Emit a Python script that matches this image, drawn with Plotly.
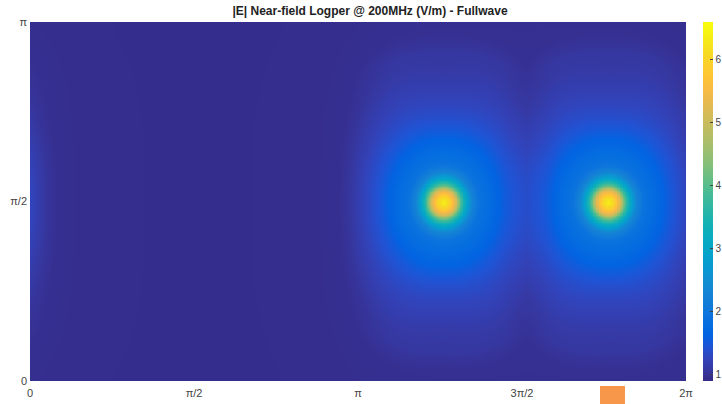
import numpy as np
import plotly.graph_objects as go

# ---- data ----
# source (peak) locations, in radians (phi, theta)
peak_phi = [3.96, 5.535]
peak_theta = [1.565, 1.565]
background_E = 0.93
# radial |E| profile around each source (distance along phi, in rad) -> V/m
profile_dist = [0.0, 0.058, 0.115, 0.163, 0.22, 0.27, 0.336, 0.43, 0.50, 0.60, 0.69, 0.80, 0.91, 1.0, 1.3, 3.5]
profile_E = [6.4, 5.95, 5.2, 3.9, 2.95, 2.3, 1.92, 1.78, 1.65, 1.48, 1.35, 1.2, 1.05, 0.97, 0.95, 0.93]
stretch_dist = [0.0, 0.3, 0.58, 0.84, 1.08, 1.46]
stretch_factor = [1.10, 1.02, 0.95, 0.91, 0.82, 0.68]
shape_p = [2.0, 2.0, 2.2, 2.5, 2.8, 3.0]
overlap_weight = 0.5   # the valley between the two sources is shallow

x_tickvals = [0, np.pi / 2, np.pi, 3 * np.pi / 2, 2 * np.pi]
x_ticktext = ["0", "π/2", "π", "3π/2", "2π"]
y_tickvals = [0, np.pi / 2, np.pi]
y_ticktext = ["0", "π/2", "π"]
cbar_ticks = [1, 2, 3, 4, 5, 6]

# MATLAB parula (classic)
parula = [
    (0.2081, 0.1663, 0.5292), (0.2123, 0.2138, 0.6270), (0.1959, 0.2645, 0.7279),
    (0.1253, 0.3242, 0.8303), (0.0117, 0.3875, 0.8820), (0.0165, 0.4266, 0.8786),
    (0.0498, 0.4586, 0.8641), (0.0723, 0.4887, 0.8467), (0.0793, 0.5200, 0.8312),
    (0.0641, 0.5570, 0.8240), (0.0343, 0.5966, 0.8199), (0.0239, 0.6287, 0.8038),
    (0.0228, 0.6535, 0.7768), (0.0384, 0.6743, 0.7436), (0.0843, 0.6928, 0.7062),
    (0.1453, 0.7098, 0.6646), (0.2178, 0.7250, 0.6193), (0.3022, 0.7376, 0.5712),
    (0.3953, 0.7459, 0.5244), (0.4871, 0.7491, 0.4840), (0.5709, 0.7485, 0.4494),
    (0.6473, 0.7456, 0.4188), (0.7184, 0.7411, 0.3905), (0.7858, 0.7356, 0.3633),
    (0.8507, 0.7299, 0.3360), (0.9140, 0.7258, 0.3063), (0.9739, 0.7314, 0.2666),
    (0.9990, 0.7653, 0.2164), (0.9880, 0.8066, 0.1794), (0.9697, 0.8481, 0.1475),
    (0.9589, 0.8949, 0.1132), (0.9661, 0.9514, 0.0755), (0.9763, 0.9831, 0.0538),
]
n = len(parula)
colorscale = [[i / (n - 1), "rgb(%d,%d,%d)" % tuple(int(round(c * 255)) for c in col)]
              for i, col in enumerate(parula)]

# ---- build the field table from the read profile ----
phi = np.linspace(0, 2 * np.pi, 440)
theta = np.linspace(0, np.pi, 260)
P, T = np.meshgrid(phi, theta)
excess = []
for px0, ty0 in zip(peak_phi, peak_theta):
    dx = np.abs(P - px0)
    dx = np.minimum(dx, 2 * np.pi - dx)
    dyr = np.abs(T - ty0)
    d0 = np.sqrt(dx ** 2 + (dyr * 1.1) ** 2)
    dy = dyr * np.interp(d0, stretch_dist, stretch_factor)
    p = np.interp(d0, stretch_dist, shape_p)
    d = (dx ** p + dy ** p) ** (1 / p)
    excess.append(np.clip(np.interp(d, profile_dist, profile_E) - background_E, 0, None))
e_hi = np.maximum(excess[0], excess[1])
e_lo = np.minimum(excess[0], excess[1])
Z = background_E + e_hi + overlap_weight * e_lo

# layout: plot area at x 30..686, y 22..381 of the 722x404 page (body margin removed)
W, H = 722, 404
L, R, TOP, B = 30, W - 686, 22, H - 381
plot_w, plot_h = 686 - 30, 381 - 22

fig = go.Figure(go.Heatmap(
    x=phi, y=theta, z=Z, zsmooth="best",
    colorscale=colorscale, zmin=0.9, zmax=6.6,
    colorbar=dict(
        x=(703 - 30) / plot_w, xanchor="left", y=0.5, yanchor="middle",
        len=1.0, lenmode="fraction", xpad=0, ypad=0,
        thickness=10, outlinewidth=0,
        tickvals=cbar_ticks, ticks="inside", ticklen=3, tickcolor="#444",
        tickfont=dict(size=10, color="#444", family="Liberation Sans"),
    ),
    hoverinfo="skip",
))

fig.add_shape(type="rect", xref="paper", yref="paper",
              x0=(600 - 30) / plot_w, x1=(625 - 30) / plot_w,
              y0=-(404 - 381) / plot_h, y1=-(386 - 381) / plot_h,
              fillcolor="#F7974A", line=dict(width=0), layer="above")

fig.update_layout(
    width=W, height=H,
    margin=dict(l=L, r=R, t=TOP, b=B, autoexpand=False),
    paper_bgcolor="white", plot_bgcolor="white",
    title=dict(text="<b>|E| Near-field Logper @ 200MHz (V/m) - Fullwave</b>",
               x=(370 - 30) / plot_w, xanchor="center", xref="paper",
               y=1 - 11 / H, yanchor="middle",
               font=dict(size=12, color="#222", family="Liberation Sans")),
    xaxis=dict(range=[0, 2 * np.pi], tickvals=x_tickvals, ticktext=x_ticktext,
               showgrid=False, zeroline=False, ticks="", automargin=False,
               ticklabelstandoff=4,
               tickfont=dict(size=11, color="#444", family="Liberation Sans")),
    yaxis=dict(range=[0, np.pi], tickvals=y_tickvals, ticktext=y_ticktext,
               showgrid=False, zeroline=False, ticks="", automargin=False,
               ticklabelstandoff=2,
               tickfont=dict(size=11, color="#444", family="Liberation Sans")),
)

fig.write_html("out.html", config={"displayModeBar": False},
               post_script="document.body.style.margin='0px';")
